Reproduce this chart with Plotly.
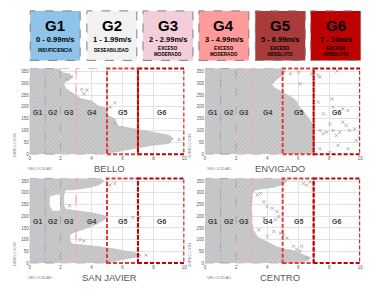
import plotly.graph_objects as go

W, H = 379, 299

# ---------------- legend boxes (top) ----------------
GROUP_NAMES = ["G1", "G2", "G3", "G4", "G5", "G6"]
GROUP_RANGES = ["0 - 0.99m/s", "1 - 1.99m/s", "2 - 2.99m/s", "3 - 4.99m/s", "5 - 6.99m/s", "7 - 10m/s"]
GROUP_DESC = ["INSUFICIENCIA", "DESEABILIDAD", "EXCESO<br>MODERADO", "EXCESO<br>MODERADO",
              "EXCESO<br>ABSOLUTO", "EXCESO<br>ABSOLUTO"]
GROUP_FILL = ["#8fc3ea", "#f2f2f2", "#f4cdda", "#ff9b9b", "#a93b3b", "#bd0000"]
GROUP_BOUNDS = [0, 1, 2, 3, 5, 7, 10]
GROUP_LABEL_V = [0.5, 1.5, 2.5, 4.0, 6.0, 8.5]
GROUP_EDGE = ["#9dc3e6", "#a6a6a6", "#f4b6c7", "#f2a7a7", "#e03a3a", "#c00000"]
GROUP_EDGE_W = [1, 1, 1, 1, 2, 2]

STATIONS = ["BELLO", "ENVIGADO", "SAN JAVIER", "CENTRO"]

# ---------------- scatter cloud envelopes (velocidad, direccion) ----------------
BELLO_ENV_VEL = [0, 0, 1.9, 2.0, 2.6, 2.7, 2.2, 2.3, 2.6, 3.0, 3.3, 4.0, 4.4, 4.9, 5.0, 5.5, 5.7,
                 6.5, 7.2, 8.2, 9.0, 9.3, 9.0, 8.0, 7.0, 6.0, 5.2, 5.0]
BELLO_ENV_DIR = [0, 362, 362, 345, 340, 320, 300, 280, 265, 250, 235, 225, 205, 195, 165, 150, 120,
                 110, 100, 90, 80, 65, 45, 38, 25, 15, 5, 0]
BELLO_OUT_VEL = [2.4, 2.7, 3.37, 3.7, 3.5, 5.5, 5.2, 5.5, 9.66]
BELLO_OUT_DIR = [319, 329, 274, 272, 255, 217, 199, 131, 62]
BELLO_HOLE_VEL = []
BELLO_HOLE_DIR = []

ENVIGADO_ENV_VEL = [0, 0, 5.0, 5.2, 5.0, 4.7, 4.5, 4.3, 4.5, 4.9, 5.2, 5.6, 5.9, 6.0, 6.3, 6.6,
                    6.8, 7.0, 7.0]
ENVIGADO_ENV_DIR = [0, 362, 362, 350, 335, 320, 310, 295, 280, 265, 255, 240, 225, 205, 185, 160,
                    140, 120, 0]
ENVIGADO_OUT_VEL = [7.40, 7.62, 7.83, 8.04, 8.26, 8.47, 8.68, 8.89, 9.10, 9.32, 9.64, 9.74, 9.96,
                    8.57, 9.21, 7.40, 8.04, 8.19, 8.26, 8.89, 9.21, 7.62, 7.30, 7.30, 7.40, 8.51,
                    6.87, 6.02, 6.13, 5.50]
ENVIGADO_OUT_DIR = [100, 86, 93, 128, 100, 79, 93, 135, 121, 100, 107, 58, 72,
                    37, 23, 23, 8, 234, 199, 192, 185, 171, 220, 333, 326, 352,
                    340, 347, 298, 340]
ENVIGADO_HOLE_VEL = []
ENVIGADO_HOLE_DIR = []

SANJAVIER_ENV_VEL = [0, 0, 4.6, 4.8, 4.5, 4.0, 3.0, 2.3, 2.2, 2.2, 2.3, 3.0, 4.0, 4.7, 5.0, 4.8,
                     4.3, 3.5, 2.8, 2.6, 2.6, 2.7, 3.5, 4.5, 5.5, 6.5, 7.1, 7.2, 6.8, 6.0, 5.3, 5.0]
SANJAVIER_ENV_DIR = [0, 362, 362, 350, 335, 325, 315, 312, 290, 250, 230, 225, 215, 205, 198, 185,
                     165, 145, 130, 120, 100, 82, 78, 70, 60, 48, 40, 32, 25, 15, 5, 0]
SANJAVIER_OUT_VEL = [5.5, 5.18, 6.67, 7.1, 2.58, 3.26, 3.5, 7.53]
SANJAVIER_OUT_DIR = [340, 333, 195, 195, 245, 100, 95, 34]
SANJAVIER_HOLE_VEL = [1.3, 1.9, 2.05, 2.0, 1.5, 1.3]
SANJAVIER_HOLE_DIR = [285, 295, 270, 225, 222, 245]

CENTRO_ENV_VEL = [0, 0, 5.0, 5.3, 5.1, 4.5, 3.7, 3.2, 3.05, 3.0, 3.0, 3.1, 3.4, 4.0, 4.6, 5.1, 5.6,
                  5.9, 6.3, 6.8, 6.6, 6.0, 5.8]
CENTRO_ENV_DIR = [0, 362, 362, 355, 338, 325, 318, 312, 295, 250, 185, 140, 110, 90, 70, 60, 55,
                  48, 35, 22, 10, 3, 0]
CENTRO_OUT_VEL = [3.36, 3.57, 3.79, 4.0, 4.32, 4.64, 4.53, 4.74, 4.43, 4.85, 3.79, 5.06, 5.28,
                  3.47, 4.0, 6.34, 6.55, 6.77, 6.98, 6.55, 5.70, 5.91, 6.13, 6.23]
CENTRO_OUT_DIR = [291, 297, 262, 241, 234, 220, 185, 199, 135, 128, 192, 121, 107,
                  142, 114, 340, 333, 347, 340, 23, 72, 58, 51, 72]
CENTRO_HOLE_VEL = []
CENTRO_HOLE_DIR = []

PANELS = [
    (BELLO_ENV_VEL, BELLO_ENV_DIR, BELLO_OUT_VEL, BELLO_OUT_DIR, BELLO_HOLE_VEL, BELLO_HOLE_DIR),
    (ENVIGADO_ENV_VEL, ENVIGADO_ENV_DIR, ENVIGADO_OUT_VEL, ENVIGADO_OUT_DIR, ENVIGADO_HOLE_VEL, ENVIGADO_HOLE_DIR),
    (SANJAVIER_ENV_VEL, SANJAVIER_ENV_DIR, SANJAVIER_OUT_VEL, SANJAVIER_OUT_DIR, SANJAVIER_HOLE_VEL, SANJAVIER_HOLE_DIR),
    (CENTRO_ENV_VEL, CENTRO_ENV_DIR, CENTRO_OUT_VEL, CENTRO_OUT_DIR, CENTRO_HOLE_VEL, CENTRO_HOLE_DIR),
]

X_TICKS = [0, 2, 4, 6, 8, 10]
Y_TICKS = [0, 50, 100, 150, 200, 250, 300, 350]
Y_MAX = 362

# ---------------- layout geometry (pixels) ----------------
PX_X = [(29.0, 185.3), (206.3, 363.0), (29.0, 185.3), (206.3, 363.0)]
PX_Y = [(69.3, 155.7), (69.3, 155.7), (180.2, 265.7), (180.2, 265.7)]
BOX_LEFT = [29.5, 86.8, 143.5, 200.0, 257.0, 313.0]
BOX_W = 50.5
BOX_TOP, BOX_BOT = 11.0, 61.0


def px2x(px):
    return px / W


def px2y(py):
    return 1 - py / H


FONT = "Liberation Sans, Arial, sans-serif"
fig = go.Figure()
shapes = []
annotations = []
layout_axes = {}


def note(**kw):
    kw.setdefault("xanchor", "center")
    kw.setdefault("yanchor", "middle")
    kw.setdefault("showarrow", False)
    annotations.append(kw)


for i, (ev, ed, ov, od, hv, hd) in enumerate(PANELS):
    n = i + 1
    xa = "x" if n == 1 else f"x{n}"
    ya = "y" if n == 1 else f"y{n}"
    fig.add_trace(go.Scatter(
        x=ev, y=ed, xaxis=xa, yaxis=ya, mode="lines", fill="toself",
        line=dict(width=0.6, color="#bcbcbc"),
        fillcolor="#c6c6c6",
        fillpattern=dict(shape="x", fgcolor="#9c9c9c", bgcolor="#cbcbcb", size=3, solidity=0.3),
        hoverinfo="skip", showlegend=False))
    if hv:
        fig.add_trace(go.Scatter(
            x=hv, y=hd, xaxis=xa, yaxis=ya, mode="lines", fill="toself",
            line=dict(width=0), fillcolor="white", hoverinfo="skip", showlegend=False))
    fig.add_trace(go.Scatter(
        x=ov, y=od, xaxis=xa, yaxis=ya, mode="markers",
        marker=dict(symbol="x-thin", size=3.2, line=dict(width=0.9, color="#ababab"), color="#ababab"),
        hoverinfo="skip", showlegend=False))

    x0, x1 = PX_X[i]
    ytop, ybot = PX_Y[i]
    axis_common = dict(showline=False, zeroline=False, showgrid=True, gridcolor="#e2e2e2",
                       gridwidth=1, ticks="", tickfont=dict(size=4.5, color="#595959", family=FONT))
    layout_axes["xaxis" if n == 1 else f"xaxis{n}"] = dict(
        domain=[px2x(x0), px2x(x1)], range=[0, 10], tickvals=X_TICKS, anchor=ya, **axis_common)
    layout_axes["yaxis" if n == 1 else f"yaxis{n}"] = dict(
        domain=[px2y(ybot), px2y(ytop)], range=[0, Y_MAX], tickvals=Y_TICKS, anchor=xa, **axis_common)

    # region boxes
    for g in range(6):
        shapes.append(dict(type="rect", xref=xa, yref=f"{ya} domain",
                           x0=GROUP_BOUNDS[g], x1=GROUP_BOUNDS[g + 1], y0=0, y1=1,
                           line=dict(color=GROUP_EDGE[g], width=GROUP_EDGE_W[g],
                                     dash="dash" if GROUP_EDGE_W[g] == 1 else "4px,2px"),
                           fillcolor="rgba(0,0,0,0)", layer="above"))
        note(xref=xa, yref=ya, x=GROUP_LABEL_V[g], y=178,
             text=f"<b>{GROUP_NAMES[g]}</b>",
             font=dict(size=7, color="#3f3f3f", family=FONT))
    # titles
    ylab = ybot + 14.5
    note(xref="paper", yref="paper", x=px2x(x0 + 10 if i % 2 == 0 else x0 + 14),
         y=px2y(ylab), text="VELOCIDAD",
         font=dict(size=4.2, color="#7f7f7f", family=FONT))
    note(xref="paper", yref="paper",
         x=px2x((x0 + x1) / 2 + 3 if i % 2 == 0 else (x0 + x1) / 2 - 3),
         y=px2y(ylab + 0.5), text=STATIONS[i],
         font=dict(size=9.5, color="#595959", family=FONT))
    note(xref="paper", yref="paper", x=px2x(x0 - 16), y=px2y(ybot - 9),
         text="DIRECCION", textangle=-90,
         font=dict(size=4.2, color="#7f7f7f", family=FONT))

# legend boxes
for g in range(6):
    bx = BOX_LEFT[g]
    shapes.append(dict(type="rect", xref="paper", yref="paper",
                       x0=px2x(bx), x1=px2x(bx + BOX_W), y0=px2y(BOX_BOT), y1=px2y(BOX_TOP),
                       fillcolor=GROUP_FILL[g], line=dict(color="#7f7f7f", width=1, dash="dash")))
    cx = px2x(bx + BOX_W / 2)
    note(xref="paper", yref="paper", x=cx, y=px2y(25.5),
         text=f"<b>{GROUP_NAMES[g]}</b>",
         font=dict(size=15, color="black", family=FONT))
    note(xref="paper", yref="paper", x=cx, y=px2y(40),
         text=f"<b>{GROUP_RANGES[g]}</b>",
         font=dict(size=7.5, color="black", family=FONT))
    desc = GROUP_DESC[g]
    note(xref="paper", yref="paper", x=cx, y=px2y(52 if "<br>" in desc else 51.5),
         text=f"<b>{desc}</b>",
         font=dict(size=4.6, color="black", family=FONT))

fig.update_layout(
    width=W, height=H, margin=dict(l=0, r=0, t=0, b=0),
    paper_bgcolor="white", plot_bgcolor="white",
    shapes=shapes, annotations=annotations, showlegend=False,
    **layout_axes)

fig.write_html("out.html", config={"displayModeBar": False},
               post_script="document.body.style.margin='0';")
